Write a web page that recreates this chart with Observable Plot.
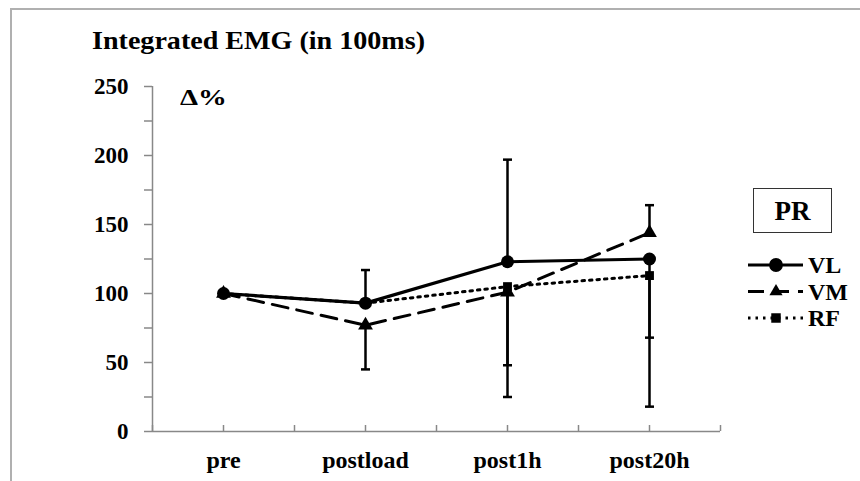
<!DOCTYPE html>
<html><head><meta charset="utf-8">
<script src="https://cdn.jsdelivr.net/npm/d3@7"></script>
<script src="https://cdn.jsdelivr.net/npm/@observablehq/plot@0.6"></script>
<style>
body{margin:0;background:#fff;}
#wrap{position:relative;width:860px;height:481px;overflow:hidden;font-family:"Liberation Serif","Times New Roman",serif;font-weight:bold;color:#000;background:#fff;}
#border{position:absolute;left:10px;top:8px;width:900px;height:500px;border-top:2px solid #b0b0b0;border-left:2px solid #b0b0b0;}
#title{position:absolute;left:92px;top:26px;font-size:26px;white-space:nowrap;transform-origin:0 0;transform:scaleX(1.08);}
#delta{position:absolute;left:180px;top:84px;font-size:24px;white-space:nowrap;transform-origin:0 0;transform:scaleX(1.2);}
#prbox{position:absolute;left:753px;top:188px;width:77px;height:43px;border:1.5px solid #333;font-size:27px;text-align:center;line-height:44px;}
#legend{position:absolute;left:740px;top:245px;}
#chart{position:absolute;left:0;top:0;}
</style></head><body><div id="wrap">
<div id="border"></div>
<div id="chart"></div>
<div id="title">Integrated EMG (in 100ms)</div>
<div id="delta">Δ%</div>
<div id="prbox">PR</div>
<div id="legend"></div>
</div>
<script>
const categories = ["pre", "postload", "post1h", "post20h"];
const seriesNames = ["VL", "VM", "RF"];
const vlValues = [100, 93, 123, 125];
const vmValues = [100, 77, 101, 144];
const rfValues = [100, 93, 105, 113];
const errCategory = ["postload", "postload", "post1h", "post1h", "post1h", "post20h", "post20h", "post20h"];
const errSeries   = ["VL", "VM", "VL", "VM", "RF", "VM", "VL", "RF"];
const errBound    = [117, 45, 197, 48, 25, 164, 68, 18];
const yTicks = d3.range(0, 251, 25);
const yLabels = d3.range(0, 251, 50);

const valuesBySeries = {VL: vlValues, VM: vmValues, RF: rfValues};
const pos = c => categories.indexOf(c) + 0.5;
const rowsFor = s => categories.map((c, i) => ({cat: c, xi: pos(c), value: valuesBySeries[s][i]}));
const vl = rowsFor("VL"), vm = rowsFor("VM"), rf = rowsFor("RF");
const errs = errCategory.map((c, i) => ({
  xi: pos(c),
  from: valuesBySeries[errSeries[i]][categories.indexOf(c)],
  to: errBound[i]
}));
const capSymbol = {draw(ctx) { ctx.moveTo(-4.5, 0); ctx.lineTo(4.5, 0); }};
const xTickPositions = d3.range(0, 4.01, 0.5);

const chart = Plot.plot({
  width: 860, height: 481,
  marginLeft: 152, marginRight: 140, marginTop: 86, marginBottom: 50,
  style: {fontFamily: "'Liberation Serif', serif", fontSize: "23px", fontWeight: "bold", background: "transparent", color: "#000", overflow: "visible"},
  x: {domain: [0, 4], axis: null},
  y: {domain: [0, 250], axis: null},
  marks: [
    Plot.axisY({ticks: yTicks, tickSize: 8, tickFormat: () => "", stroke: "#888", strokeWidth: 1.5, label: null}),
    Plot.axisY({ticks: yLabels, tickSize: 0, tickPadding: 24, label: null, fill: "#000", fontSize: 23}),
    Plot.axisX({ticks: xTickPositions, tickSize: -6, tickFormat: () => "", stroke: "#888", strokeWidth: 1.5, label: null}),
    Plot.axisX({ticks: categories.map(pos), tickSize: 0, tickPadding: 19, tickFormat: v => categories[v - 0.5], label: null, fill: "#000", fontSize: 24}),
    Plot.ruleX([0], {stroke: "#888", strokeWidth: 1.5}),
    Plot.ruleY([0], {stroke: "#888", strokeWidth: 1.5}),
    Plot.ruleX(errs, {x: "xi", y1: "from", y2: "to", stroke: "#000", strokeWidth: 2.5}),
    Plot.dot(errs, {x: "xi", y: "to", symbol: capSymbol, stroke: "#000", strokeWidth: 2.5, fill: "none"}),
    Plot.line(rf, {x: "xi", y: "value", stroke: "#000", strokeWidth: 3, strokeDasharray: "2.5,5"}),
    Plot.line(vm, {x: "xi", y: "value", stroke: "#000", strokeWidth: 3, strokeDasharray: "16,9"}),
    Plot.line(vl, {x: "xi", y: "value", stroke: "#000", strokeWidth: 3.2}),
    Plot.dot(rf, {x: "xi", y: "value", symbol: "square", r: 5, fill: "#000"}),
    Plot.dot(vm, {x: "xi", y: "value", symbol: "triangle", r: 5.5, fill: "#000"}),
    Plot.dot(vl, {x: "xi", y: "value", symbol: "circle", r: 6.5, fill: "#000"})
  ]
});
document.getElementById("chart").appendChild(chart);

// legend
const lg = d3.select("#legend").append("svg").attr("width", 120).attr("height", 100);
const legendRows = [
  {name: seriesNames[0], dash: null, sym: d3.symbolCircle, size: 150},
  {name: seriesNames[1], dash: "16,9", sym: d3.symbolTriangle, size: 75},
  {name: seriesNames[2], dash: "2.5,5", sym: d3.symbolSquare, size: 90}
];
legendRows.forEach((r, i) => {
  const y = 20 + i * 26.5;
  lg.append("line").attr("x1", 8).attr("x2", 63).attr("y1", y).attr("y2", y)
    .attr("stroke", "#000").attr("stroke-width", 3).attr("stroke-dasharray", r.dash);
  lg.append("path").attr("d", d3.symbol(r.sym, r.size)()).attr("transform", `translate(36,${y})`).attr("fill", "#000");
  lg.append("text").attr("x", 68).attr("y", y + 8).text(r.name)
    .attr("font-family", "'Liberation Serif', serif").attr("font-weight", "bold").attr("font-size", 24);
});
</script>
</body></html>
